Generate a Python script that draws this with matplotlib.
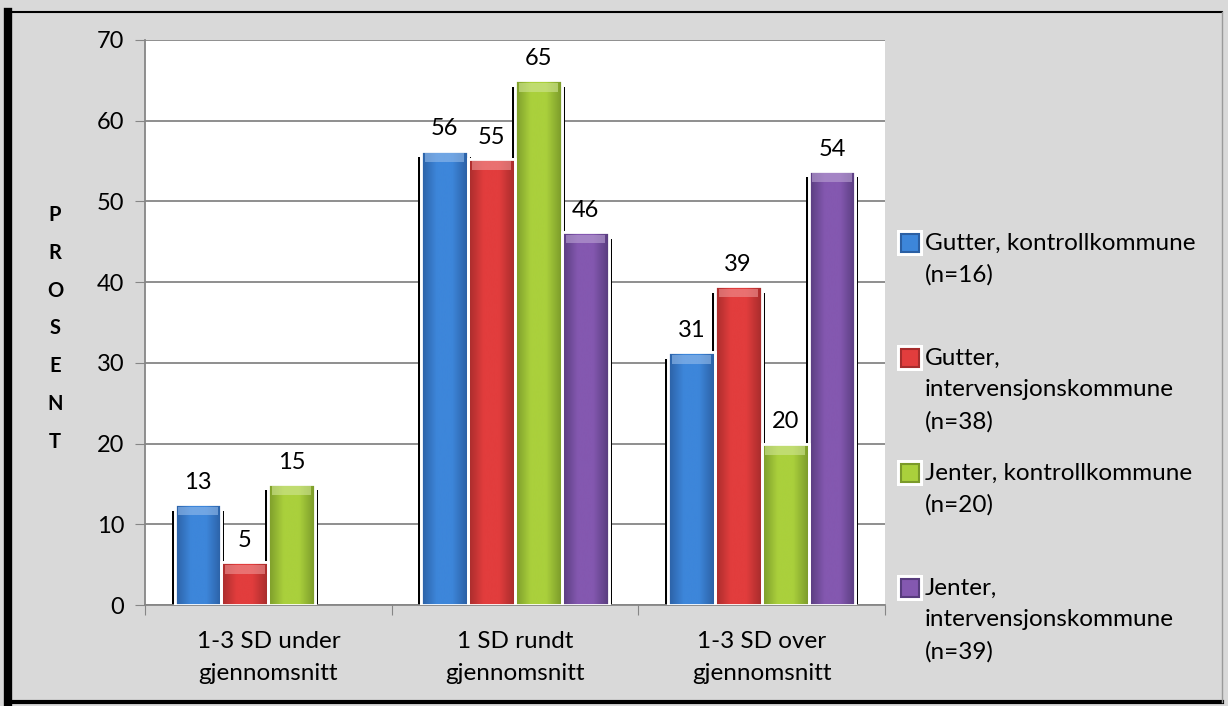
import matplotlib.pyplot as plt
import numpy as np
from matplotlib.colors import LinearSegmentedColormap, to_rgb
from matplotlib.patches import Rectangle
from matplotlib.lines import Line2D

plt.rcParams['font.family'] = ['Lato', 'DejaVu Sans']

# data
categories = ["1-3 SD under\ngjennomsnitt", "1 SD rundt\ngjennomsnitt", "1-3 SD over\ngjennomsnitt"]
series = ["Gutter, kontrollkommune\n(n=16)",
          "Gutter,\nintervensjonskommune\n(n=38)",
          "Jenter, kontrollkommune\n(n=20)",
          "Jenter,\nintervensjonskommune\n(n=39)"]
gutter_kontroll = [12.5, 56.3, 31.3]
gutter_intervensjon = [5.3, 55.3, 39.5]
jenter_kontroll = [15.0, 65.0, 20.0]
jenter_intervensjon = [0.0, 46.2, 53.8]
labels_gk = ["13", "56", "31"]
labels_gi = ["5", "55", "39"]
labels_jk = ["15", "65", "20"]
labels_ji = ["", "46", "54"]

values = [gutter_kontroll, gutter_intervensjon, jenter_kontroll, jenter_intervensjon]
labels = [labels_gk, labels_gi, labels_jk, labels_ji]

# dark edge / light centre for the gradient look
dark = ["#2b5fa3", "#a62c2c", "#7b9a2a", "#573c7d"]
light = ["#3d86da", "#e23d3d", "#aad03c", "#8458b0"]

fig = plt.figure(figsize=(12.28, 7.06), dpi=100)
fig.patch.set_facecolor("#d9d9d9")
ax = fig.add_axes([145/1228, 101/706, 740/1228, 565/706])
ax.set_facecolor("white")

w = 0.19
x = np.arange(len(categories))

for i in range(4):
    pos = x + (i - 1.5) * w
    vals = np.array(values[i])
    has = vals > 0
    # shadow behind each bar
    ax.bar(pos[has], vals[has] - 0.8, width=w + 0.024, color="black", zorder=2)
    bars = ax.bar(pos[has], vals[has], width=w, color=light[i], edgecolor="white",
                  linewidth=2, zorder=3)
    cmap = LinearSegmentedColormap.from_list("g%d" % i, [dark[i], light[i], light[i], dark[i]])
    grad = np.linspace(0, 1, 100).reshape(1, -1)
    hi = tuple(0.55 * np.array(to_rgb(light[i])) + 0.45)
    for b in bars:
        bx, by = b.get_x(), b.get_y()
        bw, bh = b.get_width(), b.get_height()
        im = ax.imshow(grad, extent=[bx, bx + bw, by, by + bh], cmap=cmap,
                       aspect="auto", zorder=3.5, interpolation="bicubic")
        im.set_clip_path(b)
        # lighter bevel at the top
        ax.add_patch(Rectangle((bx + bw * 0.08, by + bh - 1.4), bw * 0.84, 1.1,
                               facecolor=hi, edgecolor="none", alpha=0.6, zorder=3.7))
        ax.add_patch(Rectangle((bx, by), bw, bh, fill=False, edgecolor="white",
                               linewidth=2, zorder=4))
    for p, v, t in zip(pos, vals, labels[i]):
        if t:
            ax.annotate(t, (p, v), xytext=(0, 8), textcoords="offset points",
                        ha="center", va="bottom", fontsize=17, zorder=5)

ax.set_xlim(-0.5, 2.5)
ax.set_ylim(0, 70)
ax.set_yticks(range(0, 71, 10))
ax.yaxis.grid(True, color="#868686", linewidth=1.3)
ax.set_axisbelow(True)
ax.tick_params(axis="y", labelsize=17, length=7, color="#868686", pad=8)
ax.set_xticks([-0.5, 0.5, 1.5, 2.5])
ax.set_xticklabels([])
ax.set_xticks(x, minor=True)
ax.set_xticklabels(categories, minor=True, fontsize=17.5, linespacing=1.6)
ax.tick_params(axis="x", which="major", length=7, color="#868686")
ax.tick_params(axis="x", which="minor", length=0, pad=19)
for s in ["top", "right"]:
    ax.spines[s].set_visible(False)
for s in ["left", "bottom"]:
    ax.spines[s].set_color("#868686")
    ax.spines[s].set_linewidth(1.3)

# vertical axis title, letter by letter
for k, ch in enumerate("PROSENT"):
    fig.text(55/1228, 1 - (215 + k * 37.8)/706, ch, ha="center", va="center",
             fontsize=14.5, fontweight="bold")

# legend, placed manually, one text per line
legend_y = [243, 358, 473, 588]
for i in range(4):
    y0 = legend_y[i]
    fig.patches.append(Rectangle((897/1228, 1 - (y0 + 13)/706), 26/1228, 26/706,
                                 transform=fig.transFigure, facecolor="white",
                                 edgecolor="none"))
    fig.patches.append(Rectangle((901/1228, 1 - (y0 + 9)/706), 18/1228, 18/706,
                                 transform=fig.transFigure, facecolor=light[i],
                                 edgecolor=dark[i], linewidth=1.5))
    for j, line in enumerate(series[i].split("\n")):
        fig.text(925/1228, 1 - (y0 + j * 32)/706, line, ha="left", va="center",
                 fontsize=17.5)

# outer frame
fig.lines.append(Line2D([8/1228, 8/1228], [4/706, 1 - 12/706], transform=fig.transFigure,
                        color="black", linewidth=6))
fig.lines.append(Line2D([8/1228, 1222/1228], [4/706, 4/706], transform=fig.transFigure,
                        color="black", linewidth=3))
fig.lines.append(Line2D([8/1228, 1222/1228], [1 - 12/706, 1 - 12/706], transform=fig.transFigure,
                        color="black", linewidth=1.5))
fig.lines.append(Line2D([1222/1228, 1222/1228], [4/706, 1 - 12/706], transform=fig.transFigure,
                        color="#9a9a9a", linewidth=1))

fig.savefig("out.png", dpi=100, facecolor=fig.get_facecolor())
